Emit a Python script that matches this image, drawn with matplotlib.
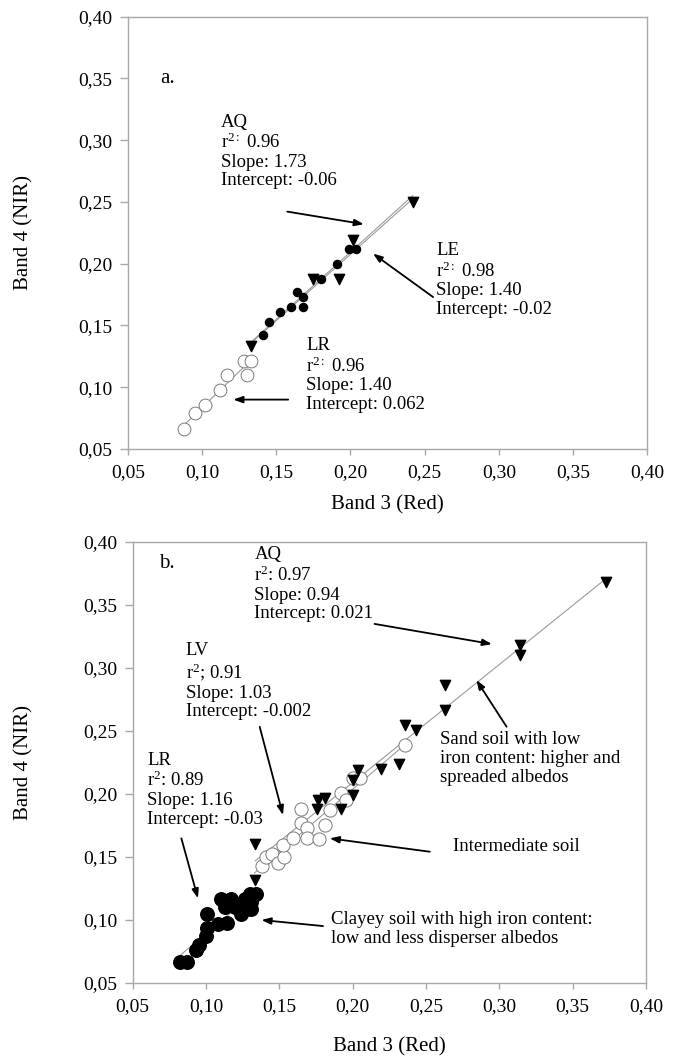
import numpy as np
import matplotlib.pyplot as plt

plt.rcParams['font.family'] = ['Liberation Serif', 'DejaVu Serif']
plt.rcParams['mathtext.fontset'] = 'custom'
plt.rcParams['mathtext.rm'] = 'Liberation Serif'
plt.rcParams['mathtext.it'] = 'Liberation Serif:italic'

# %% Daten Panel a
a_aq_x = [0.133, 0.175, 0.192, 0.202, 0.242]
a_aq_y = [0.133, 0.188, 0.188, 0.219, 0.250]

a_le_x = [0.141, 0.145, 0.1525, 0.160, 0.164, 0.168, 0.168, 0.180, 0.191, 0.199, 0.204]
a_le_y = [0.142, 0.153, 0.161, 0.165, 0.177, 0.173, 0.165, 0.188, 0.200, 0.212, 0.212]

a_lr_x = [0.088, 0.095, 0.102, 0.112, 0.117, 0.130, 0.128, 0.133]
a_lr_y = [0.066, 0.079, 0.086, 0.098, 0.110, 0.110, 0.121, 0.121]

# %% Daten Panel b
b_aq_x = [0.1337, 0.1337, 0.1757, 0.1764, 0.181, 0.192, 0.200, 0.200, 0.2037,
          0.2196, 0.2317, 0.2355, 0.2435, 0.263, 0.263, 0.314, 0.314, 0.373]
b_aq_y = [0.160, 0.132, 0.188, 0.195, 0.197, 0.188, 0.199, 0.211, 0.219,
          0.220, 0.224, 0.255, 0.251, 0.2865, 0.2667, 0.318, 0.310, 0.3685]

b_lv_x = [0.1385, 0.1407, 0.1453, 0.149, 0.153, 0.1525, 0.1593, 0.165, 0.165, 0.169,
          0.169, 0.177, 0.181, 0.1848, 0.192, 0.1957, 0.200, 0.2049, 0.236]
b_lv_y = [0.1426, 0.150, 0.152, 0.145, 0.150, 0.1595, 0.1648, 0.188, 0.177, 0.173,
          0.1648, 0.164, 0.1754, 0.187, 0.2005, 0.1953, 0.2125, 0.2125, 0.239]

b_lr_x = [0.082, 0.087, 0.093, 0.095, 0.1, 0.101, 0.101, 0.108, 0.114, 0.1105, 0.113,
          0.117, 0.1195, 0.124, 0.1265, 0.127, 0.131, 0.131, 0.134, 0.130, 0.121]
b_lr_y = [0.067, 0.067, 0.076, 0.080, 0.087, 0.094, 0.105, 0.097, 0.098, 0.117, 0.110,
          0.117, 0.110, 0.105, 0.117, 0.109, 0.109, 0.114, 0.121, 0.121, 0.113]

ticks = [0.05, 0.10, 0.15, 0.20, 0.25, 0.30, 0.35, 0.40]
tick_labels = ['0,05', '0,10', '0,15', '0,20', '0,25', '0,30', '0,35', '0,40']

linie = '#9a9a9a'
rahmen = '#a8a8a8'
fs = 13.5
ls = 1.13


def fit_linie(ax, x, y, x0=None, x1=None):
    # lineare Regression wie Excel-Trendlinie
    k, d = np.polyfit(x, y, 1)
    x0 = min(x) if x0 is None else x0
    x1 = max(x) if x1 is None else x1
    xs = np.array([x0, x1])
    ax.plot(xs, k * xs + d, color=linie, lw=0.8, zorder=1)


def achse(ax, lab_y_frac, lab_x_frac):
    ax.set_xlim(0.05, 0.40)
    ax.set_ylim(0.05, 0.40)
    ax.set_xticks(ticks)
    ax.set_yticks(ticks)
    ax.set_xticklabels(tick_labels, fontsize=14)
    ax.set_yticklabels(tick_labels, fontsize=14)
    for s in ax.spines.values():
        s.set_color(rahmen)
        s.set_linewidth(1.0)
    ax.tick_params(axis='y', length=6, width=1.0, color=rahmen, pad=5)
    ax.tick_params(axis='x', length=4, width=1.0, color=rahmen, pad=7)
    ax.set_xlabel('Band 3 (Red)', fontsize=15)
    ax.set_ylabel('Band 4 (NIR)', fontsize=15)
    ax.yaxis.set_label_coords(lab_y_frac, 0.5)
    ax.xaxis.set_label_coords(0.5, lab_x_frac)


def pfeil(ax, kopf, schwanz):
    ax.annotate('', xy=kopf, xytext=schwanz,
                arrowprops=dict(arrowstyle='-|>,head_length=0.55,head_width=0.2',
                                color='black', lw=1.3, shrinkA=0, shrinkB=0))


def block(ax, x, y, txt):
    ax.text(x, y, txt, fontsize=fs, va='top', linespacing=ls)


fig = plt.figure(figsize=(6.77, 10.57), dpi=100)

# %% Panel a
ax1 = fig.add_axes([0.189, 0.5752, 0.767, 0.409])
fit_linie(ax1, a_aq_x, a_aq_y)
fit_linie(ax1, a_le_x, a_le_y, min(a_aq_x), max(a_aq_x))
fit_linie(ax1, a_lr_x, a_lr_y)
ax1.scatter(a_lr_x, a_lr_y, s=85, facecolors='white', edgecolors='#7a7a7a', linewidths=0.7, zorder=2)
ax1.scatter(a_le_x, a_le_y, s=34, color='black', zorder=3)
ax1.scatter(a_aq_x, a_aq_y, s=55, marker='v', color='black', zorder=3)
achse(ax1, -0.181, -0.106)

ax1.text(0.072, 0.35, 'a.', fontsize=15, va='center')
r2a = 'r$^{\\mathrm{2}{:}}$'
block(ax1, 0.1125, 0.3215, 'AQ\n' + r2a + ' 0.96\nSlope: 1.73\nIntercept: -0.06')
block(ax1, 0.2577, 0.2175, 'LE\n' + r2a + ' 0.98\nSlope: 1.40\nIntercept: -0.02')
block(ax1, 0.170, 0.1405, 'LR\n' + r2a + ' 0.96\nSlope: 1.40\nIntercept: 0.062')
pfeil(ax1, (0.209, 0.232), (0.1574, 0.2422))
pfeil(ax1, (0.2152, 0.2082), (0.2557, 0.173))
pfeil(ax1, (0.121, 0.090), (0.158, 0.090))

# %% Panel b
ax2 = fig.add_axes([0.196, 0.0700, 0.758, 0.4172])
fit_linie(ax2, b_lr_x, b_lr_y)
fit_linie(ax2, b_lv_x, b_lv_y, 0.133, max(b_lv_x))
fit_linie(ax2, b_aq_x, b_aq_y)
ax2.scatter(b_lv_x, b_lv_y, s=90, facecolors='white', edgecolors='#7a7a7a', linewidths=0.7, zorder=2)
ax2.scatter(b_lr_x, b_lr_y, s=95, color='black', zorder=3)
ax2.scatter(b_aq_x, b_aq_y, s=55, marker='v', color='black', zorder=3)
achse(ax2, -0.193, -0.122)

ax2.text(0.068, 0.383, 'b.', fontsize=15, va='center')
block(ax2, 0.133, 0.3965, 'AQ\nr$^{\\mathrm{2}}$: 0.97\nSlope: 0.94\nIntercept: 0.021')
block(ax2, 0.0862, 0.3205, 'LV\nr$^{\\mathrm{2}}$; 0.91\nSlope: 1.03\nIntercept: -0.002')
block(ax2, 0.060, 0.2333, 'LR\nr$^{\\mathrm{2}}$: 0.89\nSlope: 1.16\nIntercept: -0.03')
block(ax2, 0.2594, 0.2499, 'Sand soil with low\niron content: higher and\nspreaded albedos')
ax2.text(0.2685, 0.1582, 'Intermediate soil', fontsize=fs, va='center')
block(ax2, 0.1855, 0.1071, 'Clayey soil with high iron content:\nlow and less disperser albedos')
pfeil(ax2, (0.295, 0.319), (0.215, 0.335))
pfeil(ax2, (0.1525, 0.1833), (0.1366, 0.2534))
pfeil(ax2, (0.0945, 0.1172), (0.0832, 0.1648))
pfeil(ax2, (0.2844, 0.2905), (0.305, 0.2534))
pfeil(ax2, (0.1844, 0.1648), (0.2526, 0.1542))
pfeil(ax2, (0.1378, 0.100), (0.1798, 0.0952))

fig.savefig('out.png', dpi=100)
